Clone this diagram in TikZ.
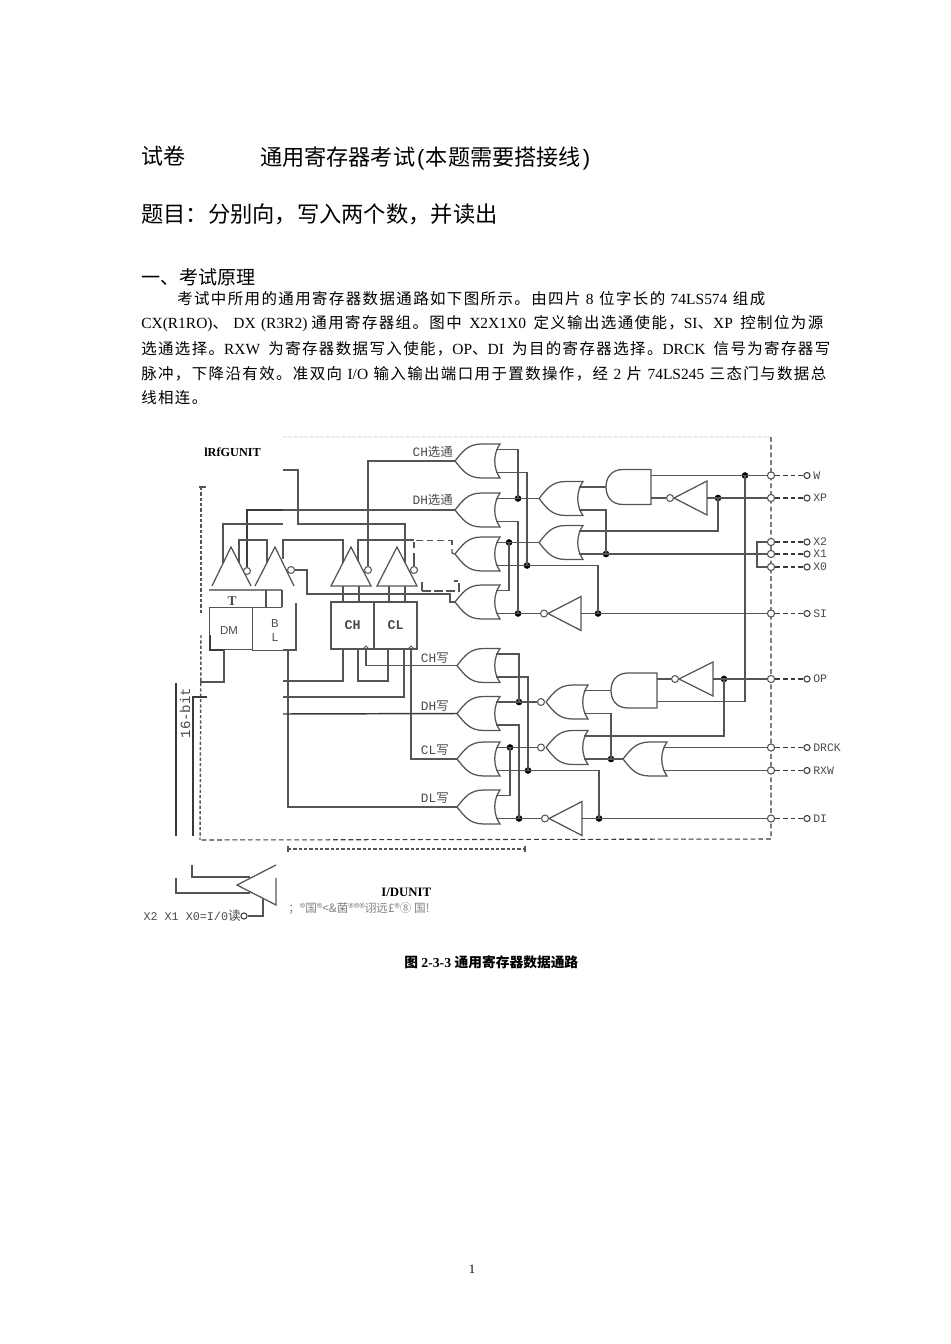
\documentclass[tikz,border=0pt]{standalone}
\usepackage{fontspec}
\setmainfont{Liberation Serif}
\setmonofont{Liberation Mono}
\newfontfamily\cjk{Noto Sans CJK SC}
\newfontfamily\bcjk[LetterSpace=9]{Noto Sans CJK SC}
\newcommand\zh[1]{{\cjk #1}}
\newcommand\fs[1]{\fontsize{#1}{#1}\selectfont}
\newcommand\bz[1]{{\bcjk\fs{11.6}#1}}
\definecolor{wirec}{HTML}{555555}
\definecolor{darkw}{HTML}{3A3A3A}
\definecolor{labc}{HTML}{4A4A4A}
\definecolor{faint}{HTML}{EBEBEB}
\tikzset{
 wire/.style={draw=wirec,line width=.95pt},
 heavy/.style={draw=darkw,line width=1.1pt},
 thinw/.style={draw=wirec,line width=.7pt},
 gatel/.style={draw=wirec,line width=.95pt},
 jdot/.style={circle,fill=black,inner sep=0pt,minimum size=5pt},
 bubc/.style={circle,draw=wirec,line width=.8pt,fill=white,inner sep=0pt,minimum size=5.2pt},
 padc/.style={circle,draw=wirec,line width=.8pt,fill=white,inner sep=0pt,minimum size=5.4pt},
 termc/.style={circle,draw=darkw,line width=.8pt,fill=white,inner sep=0pt,minimum size=4.6pt},
 dashw/.style={draw=darkw,line width=.8pt,dash pattern=on 3.6pt off 2.2pt},
 bigdash/.style={draw=wirec,line width=1.1pt,dash pattern=on 2.4pt off 1.6pt},
 txt/.style={anchor=west,inner sep=0pt,text=black},
 lab/.style={inner sep=0pt,text=labc,font=\ttfamily\fs{8.6}},
 glab/.style={anchor=east,inner sep=0pt,text=labc,font=\ttfamily\fs{9.6}},
 regbox/.style={draw=wirec,line width=1pt,inner sep=0pt,minimum width=32.25pt,minimum height=35.25pt,text=labc,font=\ttfamily\bfseries\fs{10}},
 body/.style={txt,font=\fs{11.6}},
}
% OR gate, tip to the left
\newcommand\orgate[4]{\begin{scope}[shift={(#2,#3)}]
 \draw[gatel] (0,0) .. controls (8,-10) and (13,-17) .. (27,-17) -- (#4,-17)
   .. controls (#4-7,-7) and (#4-7,7) .. (#4,17) -- (27,17) .. controls (13,17) and (8,10) .. (0,0);
 \coordinate (#1t) at (0,0);
 \coordinate (#1a) at (#4-4,-11.5);
 \coordinate (#1b) at (#4-4,11.5);
\end{scope}}
% AND gate, round side to the left
\newcommand\andgate[4]{\begin{scope}[shift={(#2,#3)}]
 \draw[gatel] (#4,-17.5) -- (17,-17.5) .. controls (5,-17.5) and (0,-9) .. (0,0)
   .. controls (0,9) and (5,17.5) .. (17,17.5) -- (#4,17.5) -- cycle;
 \coordinate (#1l) at (0,0);
 \coordinate (#1a) at (#4,-11.5);
 \coordinate (#1b) at (#4,11);
\end{scope}}
% inverter, output bubble to the left
\newcommand\invgate[4]{%
 \draw[gatel] (#2,#3) -- (#4,#3-17) -- (#4,#3+17) -- cycle;
 \node[bubc] (#1i) at (#2-4,#3) {};
 \coordinate (#1o) at (#4,#3);}
% terminal on the right
\newcommand\terminal[3]{%
 \node[padc] (p#1) at (771,#2) {};
 \node[termc] (q#1) at (807,#2) {};
 \draw[dashw] (p#1) -- (q#1);
 \node[lab,anchor=west] (l#1) at (813,#2) {#3};}
\begin{document}
\begin{tikzpicture}[x=.75pt,y=-.75pt]
\useasboundingbox (0,0) rectangle (950,1344);
% ---------- texts above
\node[txt,font=\cjk\fs{16.5}] (ti1) at (141,156) {试卷};
\node[txt,font=\fs{16.6}] (ti2) at (260,158) {\zh{通用寄存器考试}\hspace{1.5pt}{\fontspec{Liberation Sans}(}\hspace{1pt}\zh{本题需要搭接线}\hspace{1.5pt}{\fontspec{Liberation Sans})}};
\node[txt,font=\cjk\fs{16.7}] (ti3) at (141,214) {题目：分别向，写入两个数，并读出};
\node[txt,font=\cjk\fs{14.3}] (ti4) at (141,277) {一、考试原理};
\node[body] (b1) at (177,299) {\makebox[441pt][s]{\bz{考试中所用的通用寄存器数据通路如下图所示。由四片} 8 \bz{位字长的} 74LS574 \bz{组成}}};
\node[body] (b2) at (141,324) {\makebox[511.5pt][s]{CX(R1RO)\bz{、}\hspace{4pt}DX\hspace{4pt}(R3R2)\hspace{3pt}\bz{通用寄存器组。图中} X2X1X0 \bz{定义输出选通使能，}SI\bz{、}XP \bz{控制位为源}}};
\node[body] (b3) at (141,349) {\makebox[516.75pt][s]{\bz{选通选择。}RXW \bz{为寄存器数据写入使能，}OP\bz{、}DI \bz{为目的寄存器选择。}DRCK \bz{信号为寄存器写}}};
\node[body] (b4) at (141,374) {\makebox[513.75pt][s]{\bz{脉冲，下降沿有效。准双向} I/O \bz{输入输出端口用于置数操作，经} 2 \bz{片} 74LS245 \bz{三态门与数据总}}};
\node[body] (b5) at (141,398) {\bz{线相连。}};
% ---------- dashed frames
\coordinate (fa) at (283,437); \coordinate (fb) at (771,437);
\coordinate (fc) at (771,839); \coordinate (fd) at (200,840);
\coordinate (fe) at (201,487); \coordinate (ff) at (201,615); \coordinate (fg) at (201,635);
\coordinate (fh) at (288,849); \coordinate (fi) at (525,849);
\draw[draw=faint,line width=2pt,dash pattern=on 3pt off 1pt] (fa) -- (fb);
\draw[dashw] (fb) -- (fc) -- (fd);
\draw[bigdash] (fe) -- (ff);
\draw[bigdash] (fg) -- (fd);
\draw[bigdash] (fh) -- (fi);
\draw[wire] (199,487) -- (206,487);
\draw[wire] (288,846) -- (288,852);
\draw[wire] (525,846) -- (525,852);
% ---------- gates
\orgate{La}{455}{461}{45}
\orgate{Lb}{455}{510}{45}
\orgate{Lc}{455}{554}{45}
\orgate{Ld}{455}{602}{45}
\orgate{A}{539}{498.5}{44}
\orgate{B}{539}{542.5}{44}
\andgate{Pa}{606}{487}{45}
\invgate{Na}{548}{613.5}{581}
\invgate{Nb}{674}{498}{707}
\orgate{Ma}{457}{665.5}{43}
\orgate{Mb}{457}{713.5}{43}
\orgate{Mc}{457}{759}{43}
\orgate{Md}{457}{807}{43}
\orgate{E}{546}{702}{42}
\orgate{F}{546}{747.5}{42}
\orgate{G}{623}{759}{44}
\andgate{Pb}{611}{690.5}{46}
\invgate{Nc}{679}{679}{713}
\invgate{Nd}{549}{818.5}{582}
\node[bubc] (Ei) at (541,702) {};
\node[bubc] (Fi) at (541,747.5) {};
% ---------- terminals
\terminal{U}{475.5}{W}
\terminal{XP}{498}{XP}
\terminal{Xb}{542}{X2}
\terminal{Xa}{554}{X1}
\terminal{Xz}{567}{X0}
\terminal{SI}{613.5}{SI}
\terminal{OP}{679}{OP}
\terminal{DR}{747.5}{DRCK}
\terminal{RX}{770.5}{RXW}
\terminal{DI}{818.5}{DI}
% ---------- junctions
\node[jdot] (d1) at (518,498.5) {};
\node[jdot] (d2) at (527,565.5) {};
\node[jdot] (d3) at (518,613.5) {};
\node[jdot] (d4) at (509,542.5) {};
\node[jdot] (d5) at (598,613.5) {};
\node[jdot] (d6) at (606,554) {};
\node[jdot] (d7) at (718,498) {};
\node[jdot] (d8) at (745,475.5) {};
\node[jdot] (e1) at (519,702) {};
\node[jdot] (e2) at (528,770.5) {};
\node[jdot] (e3) at (519,818.5) {};
\node[jdot] (e4) at (510,747.5) {};
\node[jdot] (e5) at (599,818.5) {};
\node[jdot] (e6) at (611,759) {};
\node[jdot] (e7) at (724,679) {};
% ---------- upper logic wires
\draw[wire] (Laa) -| (d1.center);
\draw[wire] (Lab) -| (d2.center);
\draw[wire] (Lba) -- (At);
\draw[wire] (Lbb) -| (d3.center);
\draw[wire] (Lca) -- (Bt);
\draw[wire] (Lcb) -- (d2.center) -| (d5.center);
\draw[wire] (Lda) -| (d4.center);
\draw[wire] (Ldb) -- (Nai);
\draw[wire] (Nao) -- (pSI);
\draw[wire] (Aa) -- (Pal);
\draw[wire] (Ab) -| (d6.center);
\draw[wire] (Bb) -- (pXa);
\draw[wire] (Ba) -| (d7.center);
\draw[wire] (Paa) -- (pU);
\draw[wire] (Pab) -- (Nbi);
\draw[wire] (Nbo) -- (pXP);
\coordinate (xbr) at (757,554);
\draw[wire] (pXb) -| (xbr) |- (pXz);
% ---------- lower logic wires
\draw[wire] (Maa) -| (e1.center);
\draw[wire] (Mab) -| (e2.center);
\draw[wire] (Mba) -- (Ei);
\draw[wire] (Mbb) -| (e3.center);
\draw[wire] (Mca) -- (Fi);
\draw[wire] (Mcb) -- (e2.center) -| (e5.center);
\draw[wire] (Mda) -| (e4.center);
\draw[wire] (Mdb) -- (Ndi);
\draw[wire] (Ndo) -- (pDI);
\draw[wire] (Ea) -- (Pbl);
\draw[wire] (Eb) -| (e6.center);
\draw[wire] (Fb) -- (Gt);
\draw[wire] (Fa) -| (e7.center);
\draw[wire] (Pba) -- (Nci);
\draw[wire] (Nco) -- (pOP);
\draw[wire] (Pbb) -| (d8.center);
\draw[wire] (Ga) -- (pDR);
\draw[wire] (Gb) -- (pRX);
% ---------- buffers
\coordinate (Ta) at (231,547); \coordinate (Tb) at (275,547);
\coordinate (Tc) at (351,547); \coordinate (Td) at (397,547);
\draw[gatel] (212,586) -- (Ta) -- (251,586);
\draw[gatel] (255,586) -- (Tb) -- (294,586);
\draw[gatel] (331,586) -- (Tc) -- (371,586) -- cycle;
\draw[gatel] (377,586) -- (Td) -- (417,586) -- cycle;
\node[bubc] (bTa) at (247,571) {};
\node[bubc] (bTb) at (291,570) {};
\node[bubc] (bTc) at (368,570) {};
\node[bubc] (bTd) at (414,570) {};
% ---------- registers
\node[regbox] (CH) at (352.5,625.5) {CH};
\node[regbox] (CL) at (395.5,625.5) {CL};
\foreach \nm/\xx in {ta/343,tb/359,tc/389,td/405}{
 \coordinate (\nm) at (\xx,586);
 \draw[wire] (\nm) -- (\xx,602);
}
\node[draw=wirec,line width=.6pt,inner sep=0pt,minimum width=32.25pt,minimum height=31.5pt] (DM) at (230.5,628) {};
\node[inner sep=0pt,text=labc,font=\fontspec{Liberation Sans}\fs{8.6}] (DMt) at (229,631) {DM};
\node[inner sep=0pt,text=labc,font=\fontspec{Liberation Sans}\fs{8.6}] (Bl) at (275,624) {B};
\node[inner sep=0pt,text=labc,font=\fontspec{Liberation Sans}\fs{8.6}] (Ll) at (275,638) {L};
\node[inner sep=0pt,text=labc,font=\bfseries\fs{10}] (Tt) at (232,601) {T};
\coordinate (ba) at (252,607); \coordinate (bb) at (282,607);
\coordinate (bc) at (252,650); \coordinate (bd) at (296,650); \coordinate (be) at (296,603);
\draw[thinw] (ba) -- (bb);
\draw[thinw] (bc) -- (283,650);
\draw[wire] (283,650) -- (bd) -- (be);
\draw[draw=gray,line width=1.2pt] (209,590) -- (282,590);
\draw[wire] (266,590) -- (266,607);
\draw[wire] (282,590) -- (282,607);
\draw[heavy] (210,635) -- (210,650) -- (224,650);
% ---------- labels at the gates
\node[glab] (g1) at (453,452) {CH\zh{\fs{9.3}选通}};
\node[glab] (g2) at (453,500) {DH\zh{\fs{9.3}选通}};
\node[glab] (g3) at (449,658) {CH\zh{\fs{9.3}写}};
\node[glab] (g4) at (449,706) {DH\zh{\fs{9.3}写}};
\node[glab] (g5) at (449,750) {CL\zh{\fs{9.3}写}};
\node[glab] (g6) at (449,798) {DL\zh{\fs{9.3}写}};
% ---------- left part wires
\draw[wire] (Lat) -| (bTc);
\draw[wire] (Lbt) -| (bTa);
\draw[heavy] (283,509.9) -| (bTa);
\coordinate (ca) at (307,594); \coordinate (cb) at (450,594);
\draw[wire] (bTb) -| (ca) -- (cb) |- (Ldt);
\coordinate (en) at (283,470); \coordinate (eo) at (298,524);
\draw[wire] (en) -| (eo) -- (405,524) -- (405,563);
\draw[wire] (223,563) -- (223,524) -- (283,524);
\draw[wire] (239,563) -- (239,540) -- (267,540) -- (267,563);
\draw[wire] (283,559) -- (283,540) -- (343,540) -- (343,563);
\draw[wire] (358,561) -- (358,540) -- (414,540);
% remains of the hidden gate label
\draw[wire] (bTd) -- (414,553);
\draw[wire] (414,542) -- (414,548);
\draw[draw=wirec,line width=.7pt,dash pattern=on 5pt off 3pt] (416,540) -- (452,540);
\draw[wire] (452,540) -- (452,545);
\draw[wire] (452,549) -- (452,553) -- (Lct);
\draw[wire] (422,582) -- (422,591);
\draw[draw=wirec,line width=.9pt,dash pattern=on 7pt off 2pt] (422,591) -- (459,591) -- (459,581) -- (454,581);
% under the boxes
\coordinate (ua) at (224,682); \coordinate (ub) at (200,682);
\draw[wire] (224,650) -- (ua) -- (ub);
\coordinate (uc) at (288,650);
\draw[wire] (uc) |- (Mdt);
\coordinate (ud) at (283,681);
\draw[wire] (ud) -| (343,649);
\draw[wire] (358,649) |- (388,681) -- (388,649);
\coordinate (ue) at (283,697);
\draw[wire] (ue) -| (404,649);
\coordinate (uf) at (283,714);
\draw[heavy] (uf) -- (Mbt);
\coordinate (cka) at (366,649); \coordinate (ckb) at (411,649);
\draw[wire] (cka) |- (Mat);
\draw[wire] (ckb) |- (Mct);
\draw[thinw] (363,649) -- (cka |- 0,646) -- (369,649);
\draw[thinw] (408,649) -- (ckb |- 0,646) -- (414,649);
% ---------- bus and lower left buffer
\coordinate (ga) at (176,683); \coordinate (gb) at (176,836);
\coordinate (gc) at (207,697); \coordinate (gd) at (193,697); \coordinate (ge) at (193,836);
\draw[heavy] (ga) -- (gb);
\draw[heavy] (gc) -- (gd) -- (ge);
\node[inner sep=0pt,rotate=90,text=labc,font=\ttfamily\fs{10.6}] (bit) at (185,713) {16-bit};
\coordinate (ha) at (276,865); \coordinate (hb) at (237,885); \coordinate (hc) at (276,905); \coordinate (hd) at (276,878);
\draw[gatel] (ha) -- (hb) -- (hc) -- (hd);
\draw[wire] (192,865) -- (192,877) -- (250,877);
\draw[wire] (176,878) -- (176,893) -- (250,893);
\node[termc] (oe) at (244,916) {};
\draw[wire] (oe) -| (263,898);
\node[anchor=east,inner sep=0pt,text=labc,font=\ttfamily\fs{8.8}] (oel) at (241,916) {X2 X1 X0=I/0\zh{\fs{9.5}读}};
% ---------- other texts
\node[txt,font=\bfseries\fs{9.2}] (r1) at (204,452) {lRfGUNIT};
\node[txt,font=\bfseries\fs{9.6}] (r2) at (381,892) {I/DUNIT};
\node[txt,text=gray,font=\cjk\fs{8.7}] (r3) at (288,909) {；®国®<\&菌®®®诩远£®⑧ 国!};
\node[txt,font=\bfseries\fs{10.3}] (cap) at (404,962) {{\cjk\bfseries 图} 2-3-3 {\cjk\bfseries 通用寄存器数据通路}};
\node[inner sep=0pt,font=\fs{9.5}] (pg) at (472,1269) {1};
\end{tikzpicture}
\end{document}
